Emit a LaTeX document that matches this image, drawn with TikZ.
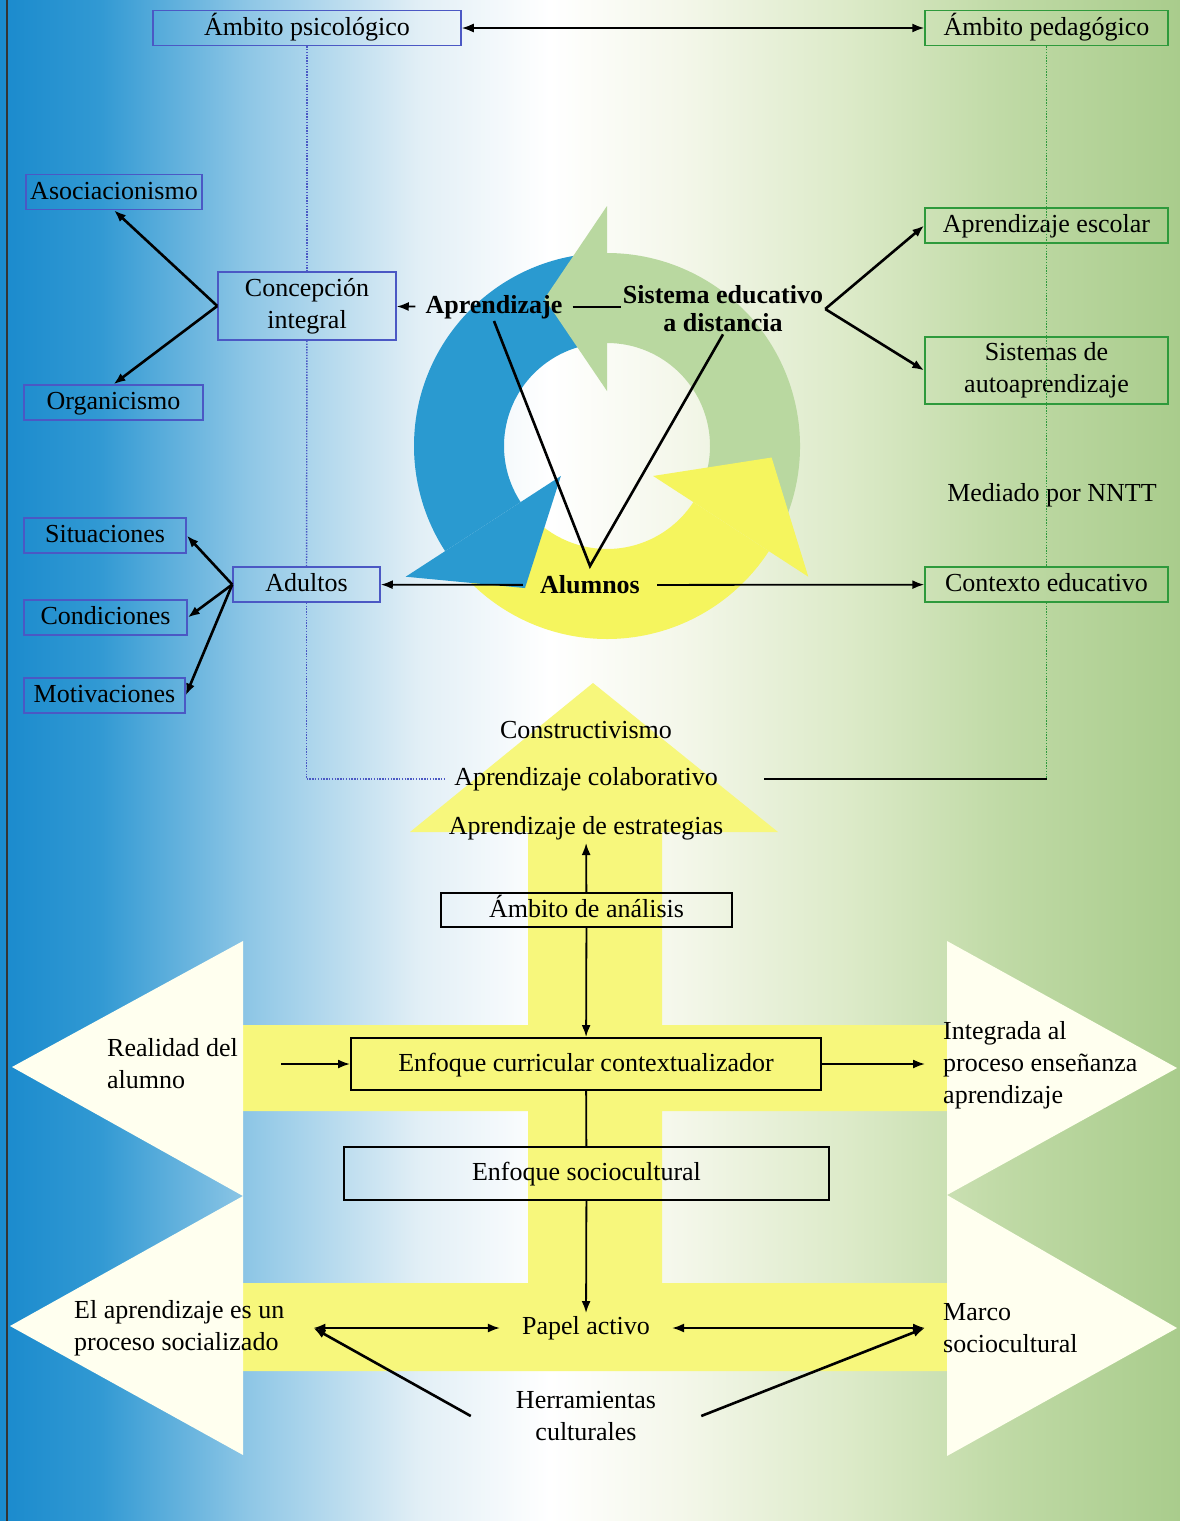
\documentclass[tikz,border=0pt]{standalone}
\usepackage{fontspec}
\setmainfont{Liberation Serif}
\usetikzlibrary{arrows.meta,calc}
\definecolor{psyblue}{HTML}{4B58C4}
\definecolor{pedgreen}{HTML}{2E9A3C}
\definecolor{ringblue}{HTML}{2A9AD0}
\definecolor{ringgreen}{HTML}{B9D8A0}
\definecolor{ringyellow}{HTML}{F5F55E}
\definecolor{bandyellow}{HTML}{F7F77C}
\definecolor{headwhite}{HTML}{FFFFEF}
\definecolor{bgA}{HTML}{1A8ACD}
\definecolor{bgB}{HTML}{3199D3}
\definecolor{bgC}{HTML}{8FC7E6}
\definecolor{bgD}{HTML}{E2EFF6}
\definecolor{bgE}{HTML}{F4F7EA}
\definecolor{bgF}{HTML}{DCEAC8}
\definecolor{bgG}{HTML}{C0DAA6}
\definecolor{bgH}{HTML}{A9CC8C}
\pgfdeclarehorizontalshading{pagegrad}{100bp}{color(0bp)=(bgA); color(25bp)=(bgA);
  color(29.2bp)=(bgB); color(35.6bp)=(bgC); color(42.8bp)=(bgD); color(48.3bp)=(white);
  color(53.8bp)=(bgE); color(61bp)=(bgF); color(67.4bp)=(bgG); color(75bp)=(bgH); color(100bp)=(bgH)}
\tikzset{hd/.tip={Latex[length=12pt,width=9pt]}}

\begin{document}
\begin{tikzpicture}[x=1pt, y=-1pt, font=\fontsize{26}{32}\selectfont, inner sep=3pt,
    box/.style={line width=1.5pt, minimum height=35pt},
    psybox/.style={box, draw=psyblue},
    pedbox/.style={box, draw=pedgreen},
    blkbox/.style={box, draw=black, line width=2pt},
    oneline/.style={text height=19pt, text depth=5pt},
    cyc/.style={font=\fontsize{26}{28}\selectfont\bfseries, inner xsep=10pt, inner ysep=2pt},
    side/.style={anchor=west, align=flush left},
    ln/.style={line width=1.8pt},
    thk/.style={line width=2.6pt},
    dotb/.style={psyblue, line width=1.4pt, dash pattern=on 1.4pt off 1.4pt},
    dotg/.style={pedgreen, line width=1.4pt, dash pattern=on 1.4pt off 1.4pt}]
  \useasboundingbox (0,0) rectangle (1180,1521);
  \shade[shading=pagegrad] (0,0) rectangle (1180,1521);
  \draw[line width=2.5pt, black!80] (7,0) -- (7,1521);

  % big yellow arrow with the two bands
  \fill[bandyellow] (528,832) -- (410,832) -- (593,683) -- (778,832) -- (662,832) -- (662,1025)
    -- (947,1025) -- (947,1111) -- (662,1111) -- (662,1283) -- (947,1283) -- (947,1371)
    -- (243,1371) -- (243,1283) -- (528,1283) -- (528,1111) -- (243,1111) -- (243,1025)
    -- (528,1025) -- cycle;
  \fill[headwhite] (243,941) -- (12,1067) -- (243,1196) -- cycle;
  \fill[headwhite] (243,1196) -- (10,1326) -- (243,1455) -- cycle;
  \fill[headwhite] (947,941) -- (1177,1068) -- (947,1195) -- cycle;
  \fill[headwhite] (947,1195) -- (1177,1328) -- (947,1456) -- cycle;

  % cycle
  \begin{scope}[shift={(607,446)}, yscale=-1]
    \fill[ringblue] (92:193) arc[start angle=92, end angle=213, radius=193] -- (213:103)
      arc[start angle=213, end angle=92, radius=103] -- cycle;
    \fill[ringgreen] (-30:193) arc[start angle=-30, end angle=90, radius=193] -- (90:103)
      arc[start angle=90, end angle=-30, radius=103] -- cycle;
    \fill[ringyellow] (215:193) arc[start angle=215, end angle=327, radius=193] -- (327:103)
      arc[start angle=327, end angle=215, radius=103] -- cycle;
    \fill[ringblue] (213:240) -- (240:164) -- (213:55) -- cycle;
    \fill[ringgreen] (90:240) -- (113:160) -- (90:55) -- cycle;
    \fill[ringyellow] (327:240) -- (356:165) -- (327:55) -- cycle;
  \end{scope}

  \node[psybox, oneline, minimum width=308pt] (psi) at (307,28) {Ámbito psicológico};
  \node[pedbox, oneline, minimum width=243pt] (ped) at (1046.5,28) {Ámbito pedagógico};

  \node[psybox, oneline, minimum width=176pt] (asoc) at (114,192) {Asociacionismo};
  \node[psybox, align=center, minimum width=178pt, minimum height=68pt] (conc) at (307,306) {Concepción\\integral};
  \node[psybox, oneline, minimum width=179pt] (org) at (113.5,402.5) {Organicismo};
  \node[psybox, oneline, minimum width=147pt] (adu) at (306.5,584.5) {Adultos};
  \node[psybox, oneline, minimum width=162pt] (sit) at (105,535.5) {Situaciones};
  \node[psybox, oneline, minimum width=163pt] (cond) at (105.5,617.5) {Condiciones};
  \node[psybox, oneline, minimum width=161pt] (mot) at (104.5,695.5) {Motivaciones};

  \node[pedbox, oneline, minimum width=243pt] (esc) at (1046.5,225.5) {Aprendizaje escolar};
  \node[pedbox, align=center, minimum width=243pt, minimum height=67pt] (auto) at (1046.5,370.5) {Sistemas de\\autoaprendizaje};
  \node (nntt) at (1052,495) {Mediado por NNTT};
  \node[pedbox, oneline, minimum width=243pt] (ctx) at (1046.5,584.5) {Contexto educativo};

  \node[cyc] (apr) at (494,307) {Aprendizaje};
  \node[cyc, align=center, inner xsep=2pt] (sis) at (723,309) {Sistema educativo\\a distancia};
  \node[cyc, inner xsep=17pt] (alu) at (590,585) {Alumnos};
  \coordinate (vtip) at (590,566);

  \node (cons) at (586,730) {Constructivismo};
  \node[inner xsep=8pt] (colab) at (586,779) {Aprendizaje colaborativo};
  \node (estr) at (586,828) {Aprendizaje de estrategias};
  \node[blkbox, oneline, minimum width=291pt, minimum height=34pt] (anal) at (586.5,910) {Ámbito de análisis};
  \node[blkbox, oneline, minimum width=470pt, minimum height=52pt] (curr) at (586,1064) {Enfoque curricular contextualizador};
  \node[blkbox, oneline, minimum width=485pt, minimum height=53pt] (socio) at (586.5,1173.5) {Enfoque sociocultural};
  \node[side, text width=170pt, inner xsep=4pt] (real) at (103,1064) {Realidad del\\alumno};
  \node[side, text width=215pt, inner xsep=18pt] (integ) at (925,1065) {Integrada al\\proceso enseñanza\\aprendizaje};
  \node[inner xsep=22pt] (papel) at (586,1328) {Papel activo};
  \node[side, text width=235pt, inner xsep=4pt] (proc) at (70,1328) {El aprendizaje es un\\proceso socializado};
  \node[side, text width=215pt, inner xsep=18pt] (marco) at (925,1328) {Marco\\sociocultural};
  \node[align=center, inner xsep=45pt] (herr) at (586,1416) {Herramientas\\culturales};

  % dotted guide lines
  \draw[dotb] (psi) -- (conc);
  \draw[dotb] (conc) -- (adu);
  \draw[dotb] (adu.south) |- (colab.west);
  \draw[dotg] (ped) -- (ctx);
  \coordinate (gturn) at (ctx.south |- colab.east);
  \coordinate (gend) at (764,779);
  \draw[dotg] (ctx.south) -- (gturn);
  \draw[ln] (gturn) -- (gend);

  % connectors
  \draw[ln, hd-hd] (psi) -- (ped);
  \draw[thk, -hd] (conc.west) -- (asoc.south);
  \draw[thk, -hd] (conc.west) -- (org.north);
  \draw[ln, -hd] (apr) -- (conc);
  \draw[ln] (apr.east) -- (apr.east -| sis.west);
  \draw[thk, -hd] (sis.east) -- (esc.west);
  \draw[thk, -hd] (sis.east) -- (auto.west);
  \draw[thk] (apr.south) -- (vtip) -- (sis.south);
  \draw[ln, -hd] (alu) -- (adu);
  \draw[ln, -hd] (alu) -- (ctx);
  \draw[thk, -hd] (adu.west) -- (sit.east);
  \draw[thk, -hd] (adu.west) -- (cond.east);
  \draw[thk, -hd] (adu.west) -- (mot.east);

  \draw[ln, -hd] (anal) -- (estr);
  \draw[ln, -hd] (anal) -- (curr);
  \draw[ln, -hd] (real) -- (curr);
  \draw[ln, -hd] (curr.east) -- (curr.east -| integ.west);
  \draw[ln] (curr) -- (socio);
  \draw[ln, -hd] (socio) -- (papel);
  \draw[ln, hd-hd] (proc) -- (papel);
  \draw[ln, hd-hd] (papel) -- (marco);
  \draw[thk, -hd] (herr.west) -- (proc.east);
  \draw[thk, -hd] (herr.east) -- (marco.west);
\end{tikzpicture}
\end{document}
